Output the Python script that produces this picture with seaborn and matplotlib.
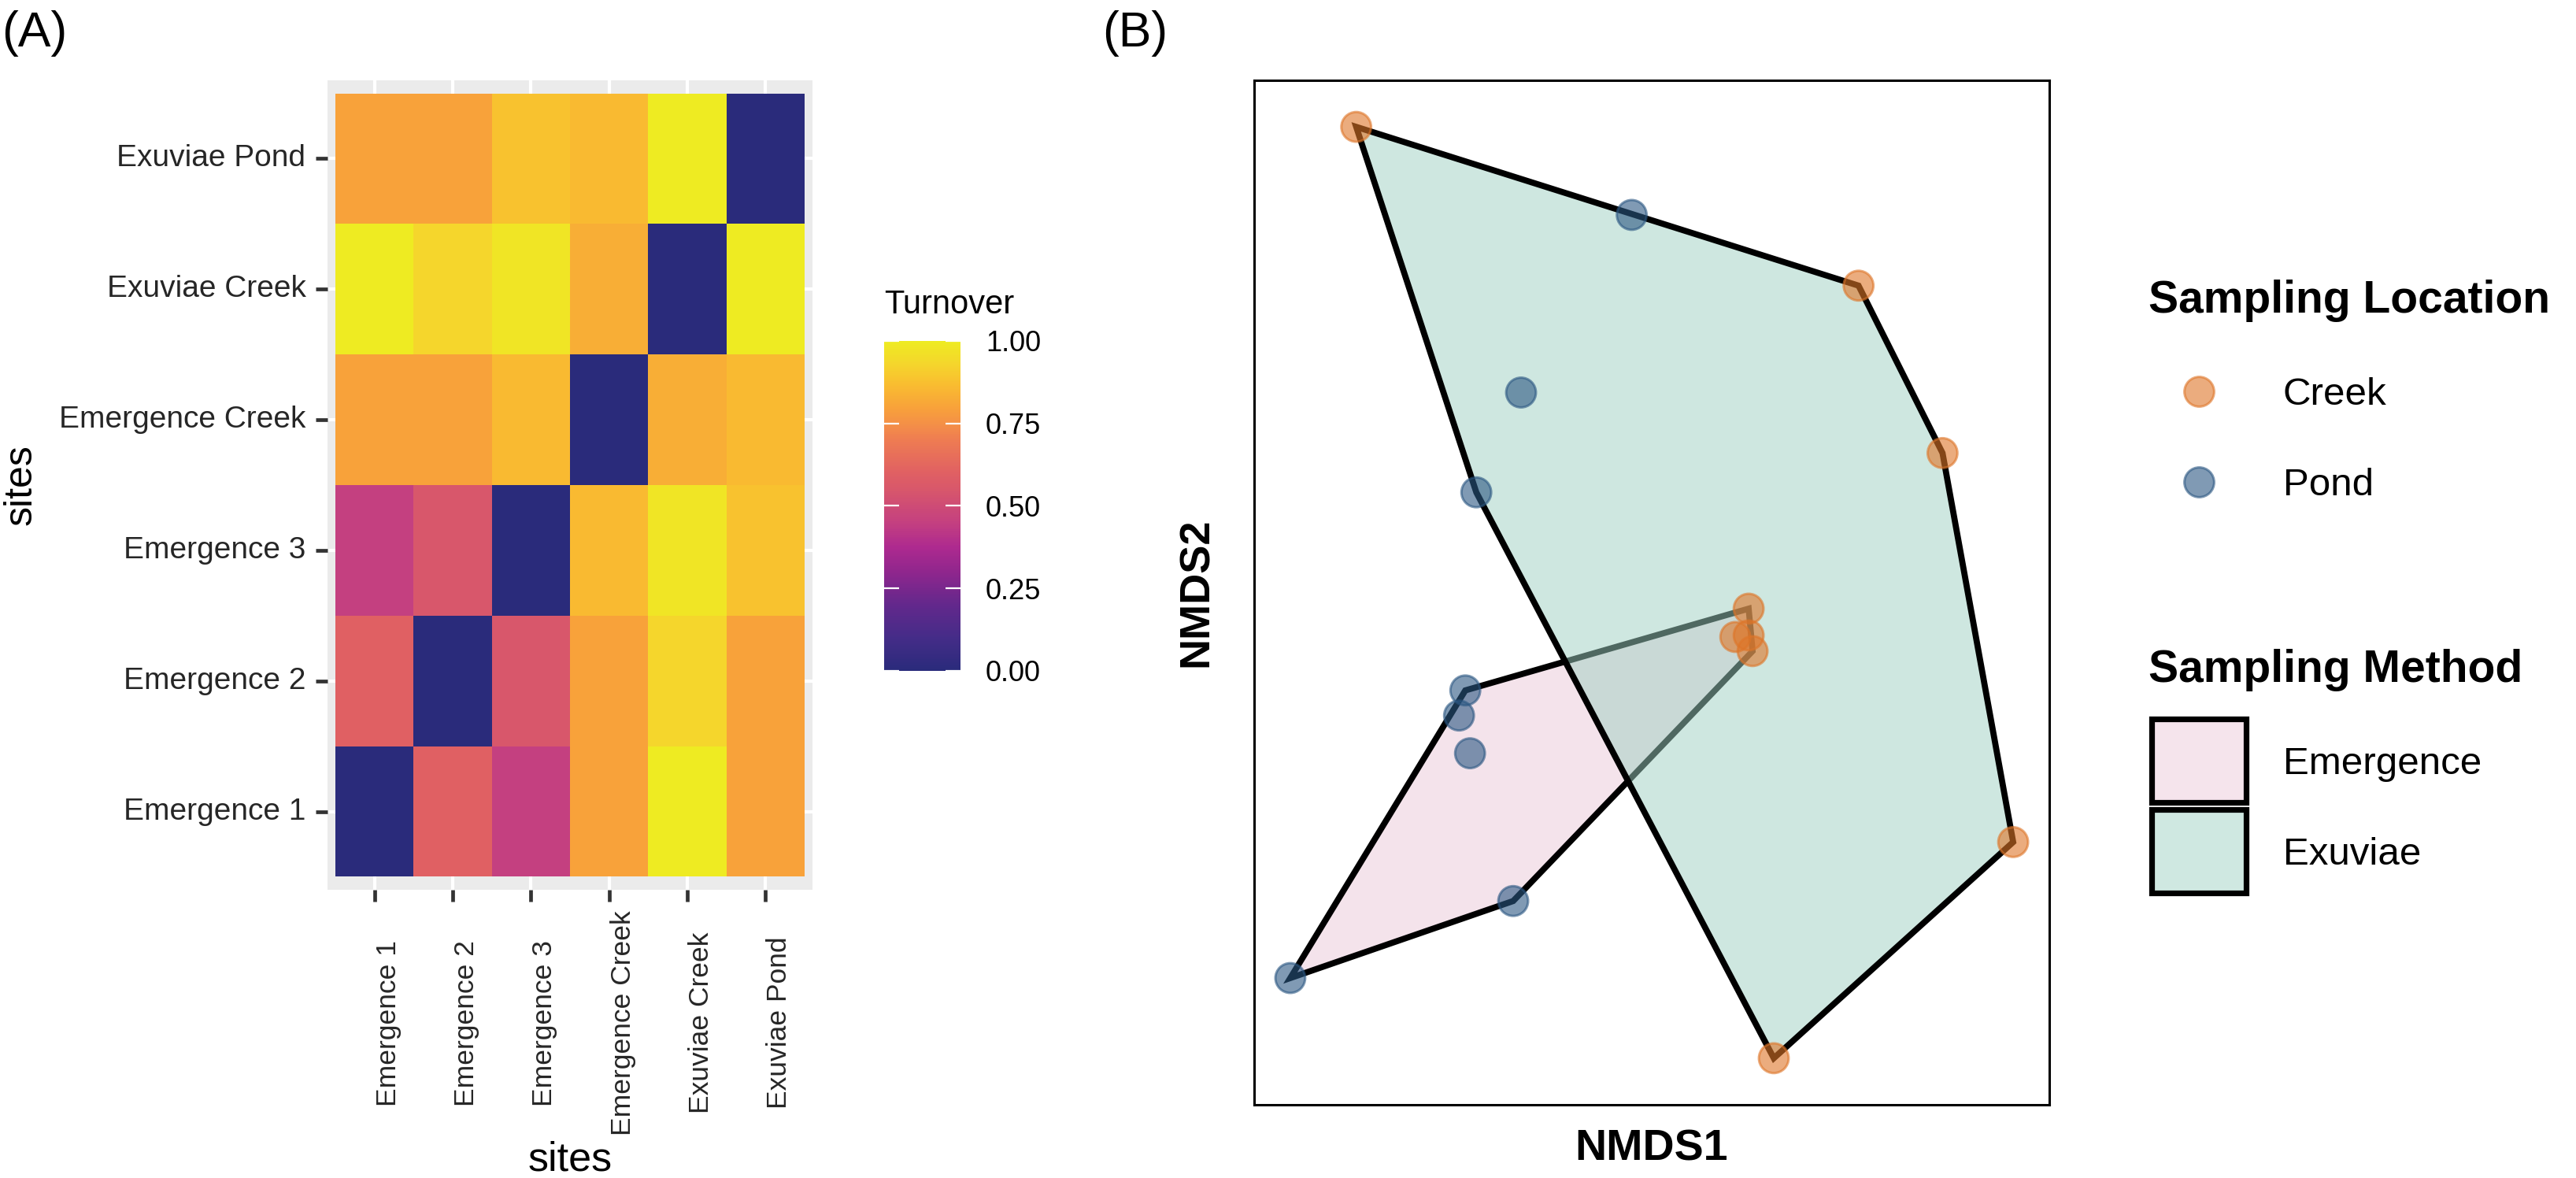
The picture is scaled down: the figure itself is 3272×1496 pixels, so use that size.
import numpy as np
import pandas as pd
import matplotlib
matplotlib.use("Agg")
import matplotlib.pyplot as plt
from matplotlib.colors import LinearSegmentedColormap
from matplotlib.lines import Line2D
from matplotlib.patches import Patch, Rectangle, Polygon
from matplotlib.legend_handler import HandlerPatch
import matplotlib.transforms as mtransforms
import seaborn as sns

# ---------------- data: panel A (turnover matrix) ----------------
sites = ["Emergence 1", "Emergence 2", "Emergence 3",
         "Emergence Creek", "Exuviae Creek", "Exuviae Pond"]
turnover_e1 = [0.00, 0.60, 0.45, 0.80, 1.00, 0.80]
turnover_e2 = [0.60, 0.00, 0.55, 0.80, 0.93, 0.80]
turnover_e3 = [0.45, 0.55, 0.00, 0.86, 0.98, 0.88]
turnover_ec = [0.80, 0.80, 0.86, 0.00, 0.83, 0.86]
turnover_xc = [1.00, 0.93, 0.98, 0.83, 0.00, 1.00]
turnover_xp = [0.80, 0.80, 0.88, 0.86, 1.00, 0.00]
cbar_ticks = [0.00, 0.25, 0.50, 0.75, 1.00]

# ---------------- data: panel B (NMDS scores) ----------------
nmds1 = [-0.752, 0.528, 0.742, 0.922, 0.312, 0.248, 0.214, 0.248, 0.258,
         -0.050, -0.332, -0.446, -0.474, -0.490, -0.462, -0.352, -0.920]
nmds2 = [1.186, 0.782, 0.356, -0.634, -1.184, -0.040, -0.112, -0.108, -0.148,
         0.962, 0.510, 0.256, -0.248, -0.312, -0.408, -0.784, -0.980]
location = ["Creek"] * 9 + ["Pond"] * 8
method = (["Exuviae"] * 5 + ["Emergence"] * 4 +
          ["Exuviae"] * 3 + ["Emergence"] * 5)
location_levels = ["Creek", "Pond"]
method_levels = ["Emergence", "Exuviae"]

# ---------------- styles ----------------
W, H = 3273, 1496
FONT = ["Liberation Sans", "DejaVu Sans"]
plt.rcParams["font.family"] = FONT
TXT = "#262626"

cmap = LinearSegmentedColormap.from_list("turnover", [
    (0.00, "#2A2B7B"), (0.10, "#452C88"), (0.20, "#63288C"),
    (0.30, "#90268D"), (0.375, "#AE2A8F"), (0.45, "#C44080"),
    (0.55, "#D8576B"), (0.60, "#E06063"), (0.70, "#EE7C52"),
    (0.75, "#F49047"), (0.80, "#F8A23A"), (0.87, "#F9BD30"),
    (0.93, "#F5D52C"), (1.00, "#EEEB22")])
loc_colors = {"Creek": "#DE7528", "Pond": "#2B5782"}
method_fill = {"Emergence": "#EBC9D9", "Exuviae": "#9FD1C3"}
legend_fill = {"Emergence": "#F5E4EC", "Exuviae": "#CFE8E1"}

fig = plt.figure(figsize=(W / 100, H / 100), dpi=100)

def fax(x0, y0, x1, y1):
    return [x0 / W, 1 - y1 / H, (x1 - x0) / W, (y1 - y0) / H]

# ---------------- panel A ----------------
ax = fig.add_axes(fax(416, 102, 1032, 1130))
cax = fig.add_axes(fax(1123, 433, 1220, 852))

mat = pd.DataFrame([turnover_e1, turnover_e2, turnover_e3,
                    turnover_ec, turnover_xc, turnover_xp],
                   index=sites, columns=sites)
mat = mat.iloc[::-1]
ax.set_facecolor("#EBEBEB")
ax.set_axisbelow(True)
sns.heatmap(mat, cmap=cmap, vmin=0, vmax=1, ax=ax, cbar_ax=cax,
            cbar_kws={"ticks": cbar_ticks, "format": "%.2f"}, linewidths=0)
ax.set_xlim(-0.1, 6.1)
ax.set_ylim(6.1, -0.1)
ax.grid(True, color="white", lw=3)
for s in ax.spines.values():
    s.set_visible(False)
ax.set_xticks(np.arange(6) + 0.5)
ax.set_xticklabels(sites, rotation=90, ha="left", va="center",
                   fontsize=25.5, color=TXT)
ax.set_yticks(np.arange(6) + 0.5)
ax.set_yticklabels(list(mat.index), rotation=0, fontsize=28, color=TXT)
ax.tick_params(axis="x", length=10.8, width=3.4, color="#333333", pad=111)
ax.tick_params(axis="y", length=10.8, width=3.4, color="#333333", pad=9)
off = mtransforms.ScaledTranslation(1 / 100, 0, fig.dpi_scale_trans)
for lab in ax.get_xticklabels():
    lab.set_transform(lab.get_transform() + off)
ax.set_xlabel("sites", fontsize=37.5, color="black")
ax.set_ylabel("sites", fontsize=36, color="black")
ax.xaxis.set_label_coords(0.5, -(1473 - 1130) / 1028)
ax.xaxis.label.set_va("center")
ax.yaxis.set_label_coords((27 - 416) / 616, 0.5)
ax.yaxis.label.set_va("center")

cbar = ax.collections[0].colorbar
cbar.outline.set_visible(False)
cax.tick_params(axis="y", direction="in", length=13.7, width=1.6,
                color="white", left=True, right=True, labelleft=False,
                labelright=True, labelsize=26, labelcolor="black", pad=23)
fig.text(1123 / W, 1 - 387 / H, "Turnover", fontsize=30,
         ha="left", va="center")

# ---------------- panel B ----------------
axn = fig.add_axes(fax(1593, 102, 2603, 1403))
df = pd.DataFrame({"NMDS1": nmds1, "NMDS2": nmds2,
                   "Location": location, "Method": method})

def hull(pts):
    pts = sorted(set(map(tuple, pts)))
    def cross(o, a, b):
        return (a[0] - o[0]) * (b[1] - o[1]) - (a[1] - o[1]) * (b[0] - o[0])
    lower, upper = [], []
    for p in pts:
        while len(lower) >= 2 and cross(lower[-2], lower[-1], p) <= 0:
            lower.pop()
        lower.append(p)
    for p in reversed(pts):
        while len(upper) >= 2 and cross(upper[-2], upper[-1], p) <= 0:
            upper.pop()
        upper.append(p)
    return np.array(lower[:-1] + upper[:-1])

for m in method_levels:
    sub = df[df["Method"] == m]
    hv = hull(sub[["NMDS1", "NMDS2"]].values)
    axn.add_patch(Polygon(hv, closed=True, facecolor=method_fill[m],
                          alpha=0.5, edgecolor="none", zorder=2))
    axn.add_patch(Polygon(hv, closed=True, fill=False, edgecolor="black",
                          lw=5.6, joinstyle="miter", zorder=2))

sns.scatterplot(data=df, x="NMDS1", y="NMDS2", hue="Location",
                hue_order=location_levels, palette=loc_colors, s=740,
                alpha=0.6, edgecolor="face", linewidth=2.2, legend=False,
                ax=axn, zorder=5)
x0, x1 = min(nmds1), max(nmds1)
y0, y1 = min(nmds2), max(nmds2)
axn.set_xlim(x0 - 0.05 * (x1 - x0), x1 + 0.05 * (x1 - x0))
axn.set_ylim(y0 - 0.05 * (y1 - y0), y1 + 0.05 * (y1 - y0))
axn.set_xticks([])
axn.set_yticks([])
axn.set_facecolor("white")
for s in axn.spines.values():
    s.set_visible(True)
    s.set_color("black")
    s.set_linewidth(2.2)
axn.set_xlabel("NMDS1", fontsize=40, fontweight="bold")
axn.set_ylabel("NMDS2", fontsize=39, fontweight="bold")
axn.xaxis.set_label_coords(0.5, -(1459 - 1403) / 1301)
axn.xaxis.label.set_va("center")
axn.yaxis.set_label_coords((1520 - 1593) / 1010, 0.5)
axn.yaxis.label.set_va("center")

# legends
loc_handles = [Line2D([], [], ls="none", marker="o", markersize=27.2,
                      markerfacecolor=loc_colors[k], markeredgecolor=loc_colors[k],
                      markeredgewidth=2.2, alpha=0.6, label=k)
               for k in location_levels]
meth_handles = [Patch(facecolor=legend_fill[k], edgecolor="black",
                      lw=5.2, label=k) for k in method_levels]

def make_box(legend, orig_handle, xdescent, ydescent, width, height, fontsize):
    bw, bh = 86.0, 76.0
    cx = -xdescent + width / 2
    cy = -ydescent + height / 2
    return Rectangle((cx - bw / 2, cy - bh / 2), bw, bh)

LEG_FS = 35.5
common = dict(loc="upper left", frameon=False, borderpad=0, borderaxespad=0,
              handlelength=128 / (LEG_FS * 100 / 72),
              handletextpad=43 / (LEG_FS * 100 / 72),
              labelspacing=(117 - 0.95 * LEG_FS * 100 / 72) / (LEG_FS * 100 / 72),
              prop={"size": LEG_FS}, alignment="left",
              bbox_transform=fig.transFigure)
leg1 = fig.legend(handles=loc_handles, title="Sampling Location",
                  bbox_to_anchor=(2729 / W, 1 - 355 / H),
                  title_fontproperties={"size": 41, "weight": "bold"}, **common)
leg2 = fig.legend(handles=meth_handles, title="Sampling Method",
                  bbox_to_anchor=(2729 / W, 1 - 824 / H),
                  title_fontproperties={"size": 41, "weight": "bold"},
                  handler_map={Patch: HandlerPatch(patch_func=make_box)},
                  **common)

fig.text(2 / W, 1 - 42 / H, "(A)", fontsize=45, ha="left", va="center")
fig.text(1400 / W, 1 - 43 / H, "(B)", fontsize=45, ha="left", va="center")

fig.savefig("out.png", dpi=100, facecolor="white")
